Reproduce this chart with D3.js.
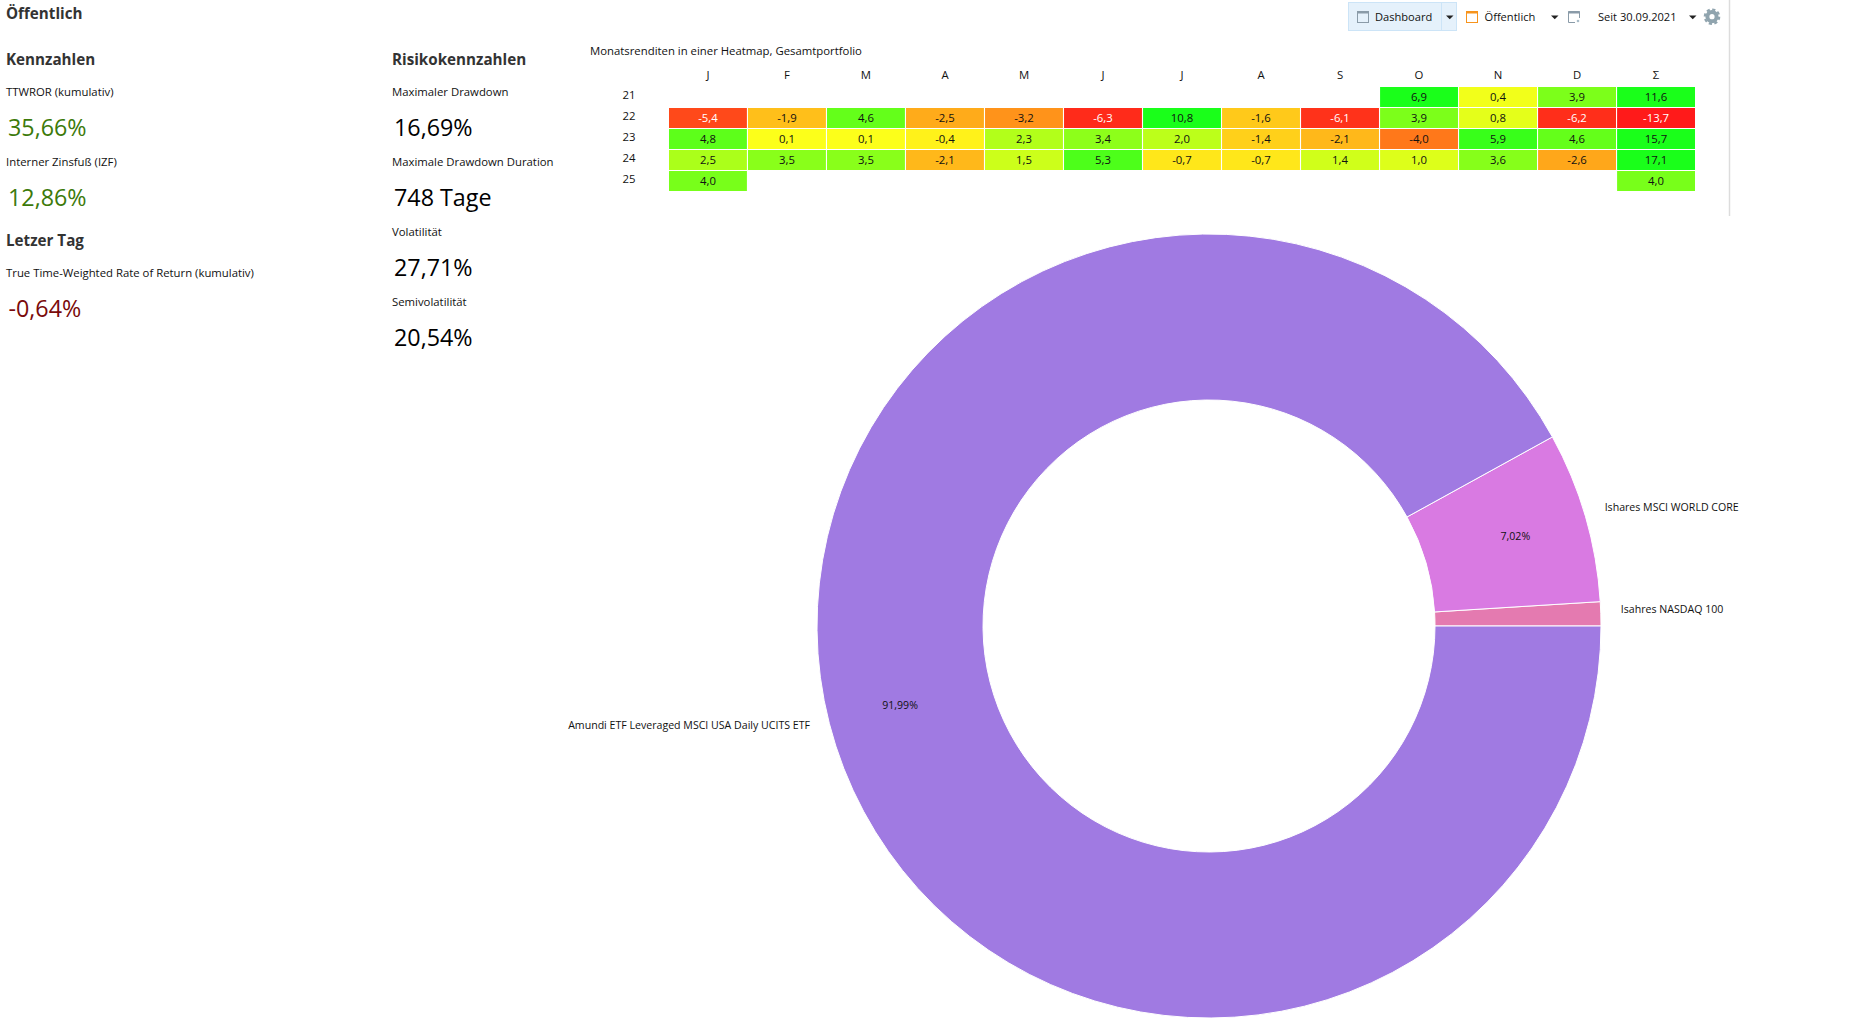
<!DOCTYPE html>
<html lang="de">
<head>
    <meta charset="UTF-8">
    <title>Dashboard</title>
    <script src="https://d3js.org/d3.v7.min.js"></script>
</head>
<body>
<style>
    html, body{
        margin: 0;
        background: #fff;
        overflow: hidden;
    }
    text{
        font-family: "Open Sans", "Noto Sans", sans-serif;
        fill: #111;
    }
    .head{
        font-size: 15.2px;
        font-weight: 700;
        fill: #333;
    }
    .small{
        font-size: 11.35px;
    }
    .chartText{
        font-size: 10.6px;
    }
    .tool{
        font-size: 11.1px;
    }
    .value{
        font-size: 23.3px;
        font-weight: 400;
    }
</style>

<script>
    // kennzahlen, left column and risk column
    const leftLabels = ["TTWROR (kumulativ)", "Interner Zinsfuß (IZF)"];
    const leftValues = ["35,66%", "12,86%"];
    const riskLabels = ["Maximaler Drawdown", "Maximale Drawdown Duration", "Volatilität", "Semivolatilität"];
    const riskValues = ["16,69%", "748 Tage", "27,71%", "20,54%"];
    const lastDayLabel = "True Time-Weighted Rate of Return (kumulativ)";
    const lastDayValue = "-0,64%";

    // heatmap
    const monthLabels = ["J", "F", "M", "A", "M", "J", "J", "A", "S", "O", "N", "D", "Σ"];
    const yearLabels = ["21", "22", "23", "24", "25"];
    const returns21 = [null, null, null, null, null, null, null, null, null, 6.9, 0.4, 3.9, 11.6];
    const returns22 = [-5.4, -1.9, 4.6, -2.5, -3.2, -6.3, 10.8, -1.6, -6.1, 3.9, 0.8, -6.2, -13.7];
    const returns23 = [4.8, 0.1, 0.1, -0.4, 2.3, 3.4, 2.0, -1.4, -2.1, -4.0, 5.9, 4.6, 15.7];
    const returns24 = [2.5, 3.5, 3.5, -2.1, 1.5, 5.3, -0.7, -0.7, 1.4, 1.0, 3.6, -2.6, 17.1];
    const returns25 = [4.0, null, null, null, null, null, null, null, null, null, null, null, 4.0];

    // donut, goes counter clockwise from 3 o'clock
    const holdingNames = ["Isahres NASDAQ 100", "Ishares MSCI WORLD CORE", "Amundi ETF Leveraged MSCI USA Daily UCITS ETF"];
    const holdingShares = [0.99, 7.02, 91.99];
    const holdingColors = ["#e47ab0", "#d97ae2", "#a07ae2"];

    const svg = d3.select("body")
        .append("svg")
        .attr("width", 1866)
        .attr("height", 1032)
        .style("display", "block");

    function label(x, y, str, cls, color){
        const t = svg.append("text")
            .attr("x", x)
            .attr("y", y)
            .attr("class", cls)
            .text(str);
        if(color){
            t.style("fill", color);
        }
        return t;
    }

    label(6, 19, "Öffentlich", "head");
    label(6, 65, "Kennzahlen", "head");
    label(392, 65, "Risikokennzahlen", "head");
    label(6, 246, "Letzer Tag", "head");

    // each label + value pair takes 70px
    leftLabels.forEach(function(d, i){
        label(6, 96 + i * 70, d, "small");
        label(8, 136 + i * 70, leftValues[i], "value", "#3c7a0a");
    });
    riskLabels.forEach(function(d, i){
        label(392, 96 + i * 70, d, "small");
        label(394, 136 + i * 70, riskValues[i], "value", "#000");
    });
    label(6, 277, lastDayLabel, "small");
    label(8.5, 317, lastDayValue, "value", "#7a0a0a");

    // heatmap
    label(590, 55, "Monatsrenditen in einer Heatmap, Gesamtportfolio", "small");

    const rows = [returns21, returns22, returns23, returns24, returns25];
    const x = d3.scaleBand()
        .domain(d3.range(monthLabels.length))
        .range([669, 1695])
        .paddingInner(0.014);
    const y = d3.scaleBand()
        .domain(yearLabels)
        .range([87, 191])
        .paddingInner(0.048);
    const color = d3.scaleLinear()
        .domain([-6.8, 0, 6.8])
        .range(["#ff1a1a", "#ffff1a", "#1aff1a"])
        .clamp(true);

    svg.selectAll(".month")
        .data(monthLabels)
        .enter()
        .append("text")
        .attr("class", "small month")
        .attr("text-anchor", "middle")
        .attr("x", function(d, i){ return x(i) + x.bandwidth() / 2; })
        .attr("y", 79)
        .text(function(d){ return d; });

    svg.selectAll(".year")
        .data(yearLabels)
        .enter()
        .append("text")
        .attr("class", "small year")
        .attr("text-anchor", "middle")
        .attr("x", 629)
        .attr("y", function(d){ return y(d) + 12; })
        .text(function(d){ return d; });

    const cells = [];
    rows.forEach(function(row, r){
        row.forEach(function(v, c){
            if(v !== null){
                cells.push({year: yearLabels[r], col: c, value: v});
            }
        });
    });

    svg.selectAll(".cell")
        .data(cells)
        .enter()
        .append("rect")
        .attr("class", "cell")
        .attr("x", function(d){ return x(d.col); })
        .attr("y", function(d){ return y(d.year); })
        .attr("width", x.bandwidth())
        .attr("height", y.bandwidth())
        .attr("fill", function(d){ return color(d.value); });

    svg.selectAll(".cellText")
        .data(cells)
        .enter()
        .append("text")
        .attr("class", "small cellText")
        .attr("text-anchor", "middle")
        .attr("x", function(d){ return x(d.col) + x.bandwidth() / 2; })
        .attr("y", function(d){ return y(d.year) + 14; })
        .style("fill", function(d){ return d.value <= -5 ? "#fff" : "#111"; })
        .text(function(d){ return d3.format(".1f")(d.value).replace(".", ",").replace("−", "-"); });

    // donut
    const cx = 1209, cy = 626;
    const pie = d3.pie()
        .sort(null)
        .startAngle(Math.PI / 2)
        .endAngle(Math.PI / 2 - 2 * Math.PI);
    const arc = d3.arc().innerRadius(226).outerRadius(392);
    const percentArc = d3.arc().innerRadius(319).outerRadius(319);
    const nameArc = d3.arc().innerRadius(412).outerRadius(412);
    const slices = pie(holdingShares);
    const donut = svg.append("g").attr("transform", "translate(" + cx + "," + cy + ")");

    donut.selectAll("path")
        .data(slices)
        .enter()
        .append("path")
        .attr("d", arc)
        .attr("fill", function(d, i){ return holdingColors[i]; })
        .attr("stroke", "#fff")
        .attr("stroke-width", 1);

    // the smallest slice has no percent label in the original
    donut.selectAll(".percent")
        .data(slices.filter(function(d){ return d.value > 1; }))
        .enter()
        .append("text")
        .attr("class", "chartText percent")
        .attr("text-anchor", "middle")
        .attr("dy", "0.3em")
        .attr("transform", function(d){ return "translate(" + percentArc.centroid(d) + ")"; })
        .text(function(d){ return d3.format(".2f")(d.value).replace(".", ",") + "%"; });

    donut.selectAll(".name")
        .data(slices)
        .enter()
        .append("text")
        .attr("class", "chartText name")
        .attr("text-anchor", function(d){ return nameArc.centroid(d)[0] < 0 ? "end" : "start"; })
        .attr("transform", function(d){ return "translate(" + nameArc.centroid(d) + ")"; })
        .text(function(d, i){ return holdingNames[i]; });

    // toolbar
    svg.append("rect")
        .attr("x", 1348.5).attr("y", 2.5).attr("width", 108).attr("height", 28)
        .attr("fill", "#e5f1fb").attr("stroke", "#cce4f7");
    svg.append("line")
        .attr("x1", 1441.5).attr("x2", 1441.5).attr("y1", 3).attr("y2", 30)
        .attr("stroke", "#cce4f7");

    function icon(x0, stroke){
        svg.append("rect")
            .attr("x", x0 + 0.5).attr("y", 11.5).attr("width", 11).attr("height", 11)
            .attr("fill", "none").attr("stroke", stroke);
        svg.append("line")
            .attr("x1", x0).attr("x2", x0 + 12).attr("y1", 12.5).attr("y2", 12.5)
            .attr("stroke", stroke).attr("stroke-width", 2);
    }
    function arrow(x0){
        svg.append("path")
            .attr("d", "M" + x0 + ",15.5h7.5l-3.75,3.75z")
            .attr("fill", "#222");
    }

    icon(1357, "#8a9ba8");
    icon(1466, "#f7941d");
    arrow(1446);
    arrow(1551);
    arrow(1689);

    // third icon is open at the lower right corner with a small dot
    svg.append("path")
        .attr("d", "M1579.5,18V11.5H1568.5V22.5H1575")
        .attr("fill", "none").attr("stroke", "#8a9ba8");
    svg.append("line")
        .attr("x1", 1568).attr("x2", 1580).attr("y1", 12.5).attr("y2", 12.5)
        .attr("stroke", "#8a9ba8").attr("stroke-width", 2);
    svg.append("circle")
        .attr("cx", 1578).attr("cy", 21).attr("r", 1.3)
        .attr("fill", "#a9bcc8");

    label(1375, 21, "Dashboard", "tool");
    label(1484.5, 21, "Öffentlich", "tool");
    label(1598, 21, "Seit 30.09.2021", "tool");

    // gear
    svg.append("circle")
        .attr("cx", 1712).attr("cy", 16.7).attr("r", 4.6)
        .attr("fill", "none").attr("stroke", "#90a4ae").attr("stroke-width", 4);
    svg.append("circle")
        .attr("cx", 1712).attr("cy", 16.7).attr("r", 7.2)
        .attr("fill", "none").attr("stroke", "#90a4ae").attr("stroke-width", 2.2)
        .attr("stroke-dasharray", "3.2 2.45");

    svg.append("line")
        .attr("x1", 1729.5).attr("x2", 1729.5).attr("y1", 0).attr("y2", 216)
        .attr("stroke", "#dcdcdc").attr("stroke-width", 1.5);
</script>
</body>
</html>
